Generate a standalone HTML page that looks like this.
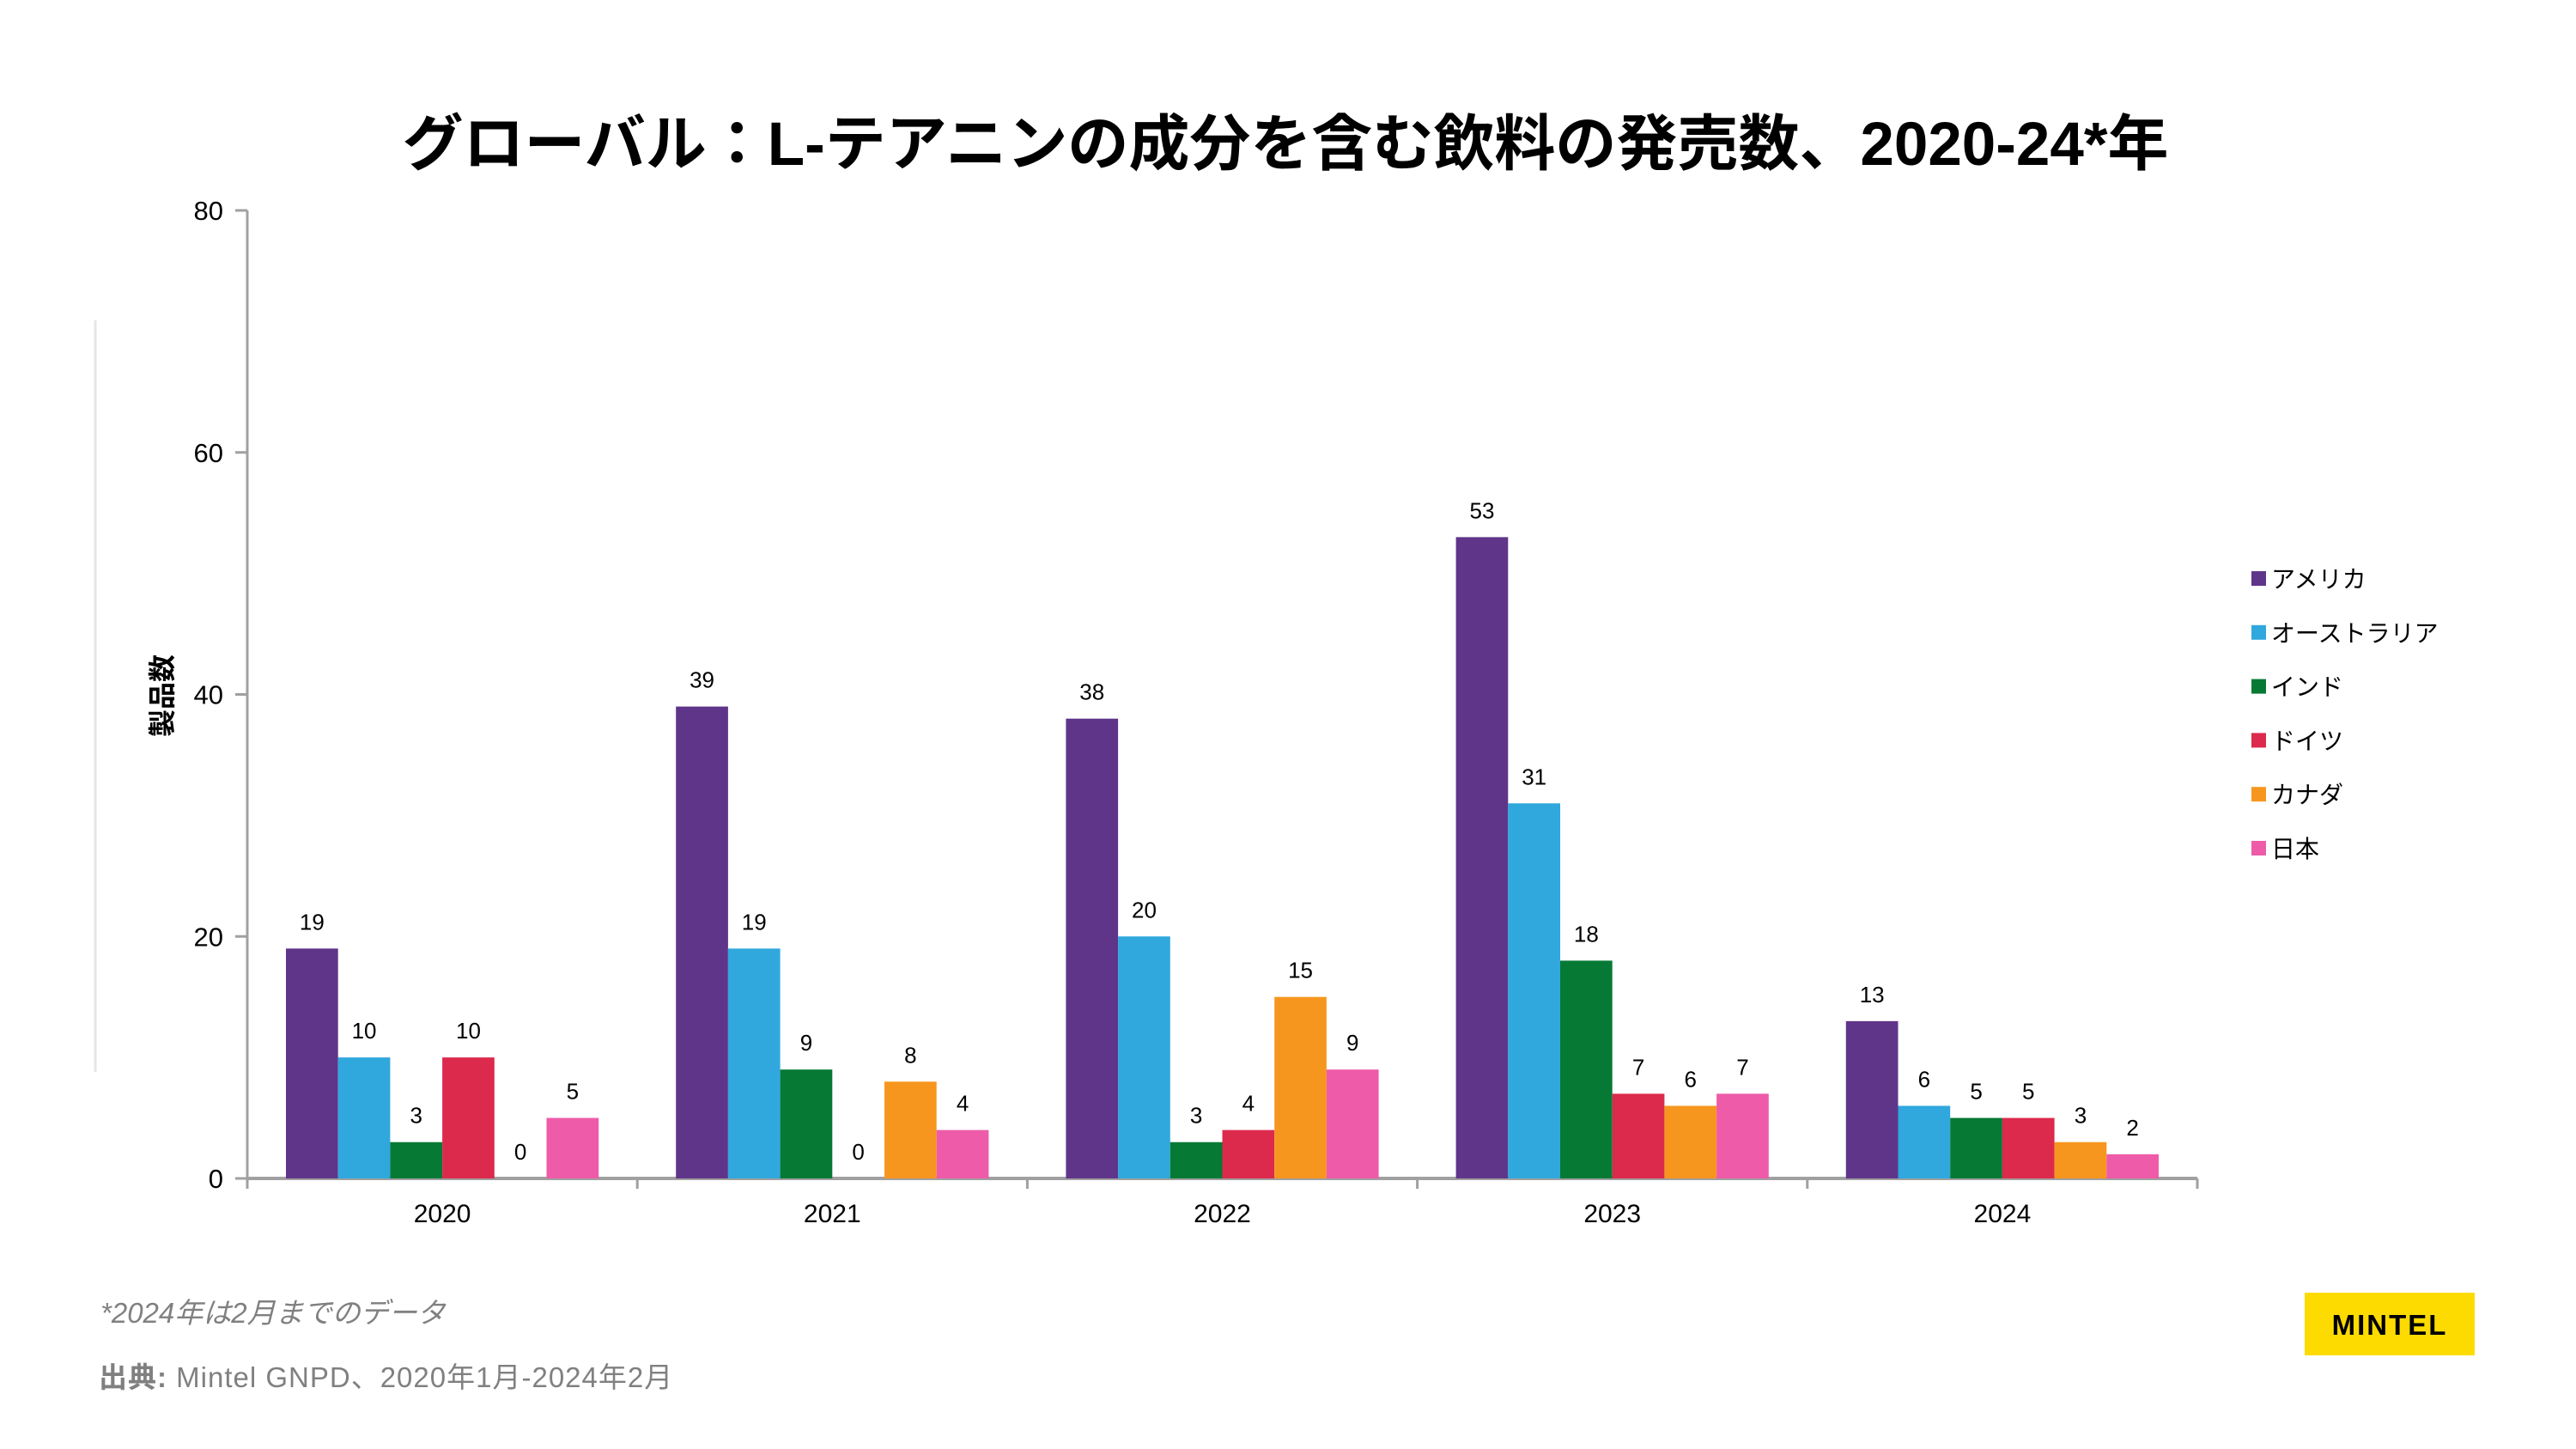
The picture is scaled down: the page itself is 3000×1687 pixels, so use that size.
<!DOCTYPE html>
<html><head><meta charset="utf-8"><style>
html,body{margin:0;padding:0;background:#fff;}
svg{display:block;}
text{font-family:"Liberation Sans","Noto Sans CJK JP",sans-serif;}
</style></head><body>
<svg id="chart" width="3000" height="1687" viewBox="0 0 3000 1687" xmlns="http://www.w3.org/2000/svg">
<text x="1497" y="192" text-anchor="middle" font-size="71" font-weight="bold" fill="#000">グローバル：L-テアニンの成分を含む飲料の発売数、2020-24*年</text>
<line x1="111" y1="373" x2="111" y2="1248" stroke="#e6e6e6" stroke-width="3"/>
<text transform="translate(200,810) rotate(-90)" text-anchor="middle" font-size="32" font-weight="bold" fill="#000">製品数</text>
<g id="axes"></g>
<g id="bars"></g>
<g id="legend"></g>
<text x="117" y="1540" font-size="33" font-style="italic" fill="#808080">*2024年は2月までのデータ</text>
<text x="115" y="1615" font-size="33" fill="#808080" letter-spacing="1"><tspan font-weight="bold">出典:</tspan> Mintel GNPD、2020年1月-2024年2月</text>
<rect x="2684" y="1505" width="198" height="73" fill="#fddb00"/>
<text x="2783" y="1554" text-anchor="middle" font-size="33" font-weight="bold" letter-spacing="2" fill="#000">MINTEL</text>
</svg>
<script>
const categories = ["2020","2021","2022","2023","2024"];
const seriesNames = ["アメリカ","オーストラリア","インド","ドイツ","カナダ","日本"];
const usa = [19,39,38,53,13];
const australia = [10,19,20,31,6];
const india = [3,9,3,18,5];
const germany = [10,0,4,7,5];
const canada = [0,8,15,6,3];
const japan = [5,4,9,7,2];
const yTicks = [0,20,40,60,80];
const seriesValues = [usa,australia,india,germany,canada,japan];
const colors = ["#5f358a","#30a8dd","#067a35","#dc2a4c","#f7961f","#ee5ba8"];

const NS = "http://www.w3.org/2000/svg";
const X0 = 288, X1 = 2559, Y0 = 1372, YTOP = 245, YMAX = 80;
const catW = (X1 - X0) / categories.length;
const pad = 45;
const barW = (catW - 2 * pad) / seriesValues.length;
function yScale(v){ return Y0 - (v / YMAX) * (Y0 - YTOP); }
function xCat(i){ return X0 + i * catW; }
function mk(tag, attrs, parent){ const e = document.createElementNS(NS, tag); for (const k in attrs) e.setAttribute(k, attrs[k]); parent.appendChild(e); return e; }

const axes = document.getElementById("axes");
const bars = document.getElementById("bars");
const legend = document.getElementById("legend");

yTicks.forEach(t => {
  const y = yScale(t);
  const tk = mk("line", {x1: X0 - 14, x2: X0, y1: y, y2: y, stroke: "#a0a0a0", "stroke-width": 3}, axes);
  
  
  const lb = mk("text", {x: X0 - 28, y: y + 11, "text-anchor": "end", "font-size": 31, fill: "#000"}, axes);
  lb.textContent = t;
  
  
});
const ya = mk("line", {x1: X0, x2: X0, y1: YTOP, y2: Y0 + 12, stroke: "#a0a0a0", "stroke-width": 3}, axes);



categories.forEach((c, i) => {
  seriesValues.forEach((s, j) => {
    const v = s[i];
    const x = xCat(i) + pad + j * barW;
    const y = yScale(v);
    const r = mk("rect", {x: x, y: y, width: barW, height: Y0 - y, fill: colors[j]}, bars);
    
    
    const t = mk("text", {x: x + barW / 2, y: y - 22, "text-anchor": "middle", "font-size": 26, fill: "#000"}, bars);
    t.textContent = v;
    
    
  });
  const cl = mk("text", {x: xCat(i) + catW / 2, y: Y0 + 51, "text-anchor": "middle", "font-size": 30, fill: "#000"}, axes);
  cl.textContent = c;
  
  
});
for (let i = 0; i <= categories.length; i++) {
  const tk = mk("line", {x1: xCat(i), x2: xCat(i), y1: Y0, y2: Y0 + 12, stroke: "#a0a0a0", "stroke-width": 3}, axes);
  
  
}
const xa = mk("line", {x1: X0, x2: X1, y1: Y0, y2: Y0, stroke: "#a0a0a0", "stroke-width": 4}, axes);



const legY0 = 674;
seriesNames.forEach((n, j) => {
  const y = legY0 + j * 62.8;
  const sq = mk("rect", {x: 2622, y: y - 9, width: 17, height: 17, fill: colors[j]}, legend);
  
  
  const t = mk("text", {x: 2645, y: y + 10, "font-size": 28, fill: "#000"}, legend);
  t.textContent = n;
  
  
});
</script>
</body></html>
